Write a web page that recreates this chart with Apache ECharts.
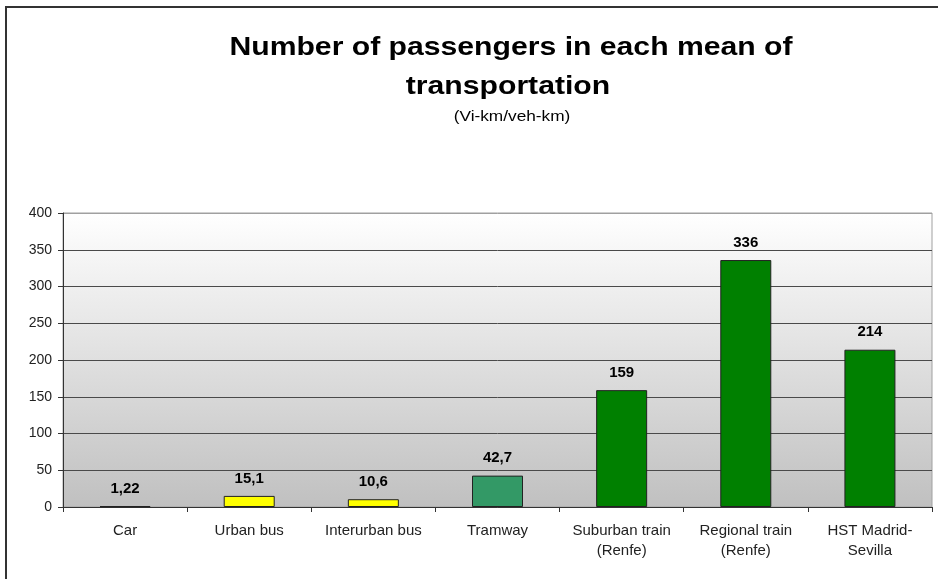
<!DOCTYPE html>
<html>
<head>
<meta charset="utf-8">
<script src="https://cdn.jsdelivr.net/npm/echarts@6/dist/echarts.min.js"></script>
<style>
html,body{margin:0;padding:0;background:#fff;}
#chart{width:938px;height:579px;}
</style>
</head>
<body>
<div id="chart"></div>
<script>
var categories = ['Car', 'Urban bus', 'Interurban bus', 'Tramway', 'Suburban train\n(Renfe)', 'Regional train\n(Renfe)', 'HST Madrid-\nSevilla'];
var values = [1.22, 15.1, 10.6, 42.7, 159, 336, 214];
var barColors = ['#000000', '#ffff00', '#ffff00', '#339966', '#008000', '#008000', '#008000'];
var titleLines = ['Number of passengers in each mean of', 'transportation'];
var subtitle = '(Vi-km/veh-km)';
var yTicks = [0, 50, 100, 150, 200, 250, 300, 350, 400];

var chart = echarts.init(document.getElementById('chart'));
var font = '"Liberation Sans", Arial, sans-serif';
var splitColors = [];
for (var i = 0; i < yTicks.length; i++) splitColors.push(i === yTicks.length - 1 ? '#a0a0a0' : '#4a4a4a');

function titleText(txt, x, y, css, sx) {
  return {type: 'text', x: x, y: y, scaleX: sx, scaleY: 1,
    style: {x: 0, y: 0, text: txt, font: css, fill: '#000', textAlign: 'center', textVerticalAlign: 'middle'}};
}

chart.setOption({
  backgroundColor: '#ffffff',
  animation: false,
  graphic: [
    {type: 'rect', shape: {x: 6, y: 7, width: 1200, height: 1200}, style: {fill: 'none', stroke: '#333', lineWidth: 2}, silent: true, z: 100},
    titleText(titleLines[0], 511, 48, 'bold 26px ' + font, 1.16),
    titleText(titleLines[1], 508, 87, 'bold 26px ' + font, 1.16),
    titleText(subtitle, 512, 117, '15px ' + font, 1.15)
  ],
  grid: {
    left: 63, right: 6, top: 213, bottom: 72,
    show: true,
    borderColor: '#a0a0a0',
    borderWidth: 1,
    backgroundColor: {
      type: 'linear', x: 0, y: 0, x2: 0, y2: 1,
      colorStops: [{offset: 0, color: '#ffffff'}, {offset: 1, color: '#c0c0c0'}]
    }
  },
  xAxis: {
    type: 'category',
    data: categories,
    axisLine: {lineStyle: {color: '#333', width: 1}},
    axisTick: {show: true, length: 5, lineStyle: {color: '#333'}},
    axisLabel: {color: '#222', fontSize: 15, fontFamily: font, margin: 14, lineHeight: 20, interval: 0}
  },
  yAxis: {
    type: 'value',
    min: 0, max: 400, interval: 50,
    axisLine: {show: true, lineStyle: {color: '#333', width: 1}},
    axisTick: {show: true, length: 5, lineStyle: {color: '#333'}},
    axisLabel: {color: '#222', fontSize: 14, fontFamily: font, margin: 11},
    splitLine: {show: true, lineStyle: {color: splitColors, width: 1}}
  },
  series: [{
    type: 'bar',
    barWidth: 51,
    data: values.map(function (v, i) {
      return {value: v, itemStyle: {color: barColors[i], borderColor: '#222', borderWidth: 1}};
    }),
    label: {
      show: true, position: 'top', distance: 10,
      color: '#000', fontSize: 15, fontWeight: 'bold', fontFamily: font,
      formatter: function (p) { return String(p.value).replace('.', ','); }
    }
  }]
});
</script>
</body>
</html>
